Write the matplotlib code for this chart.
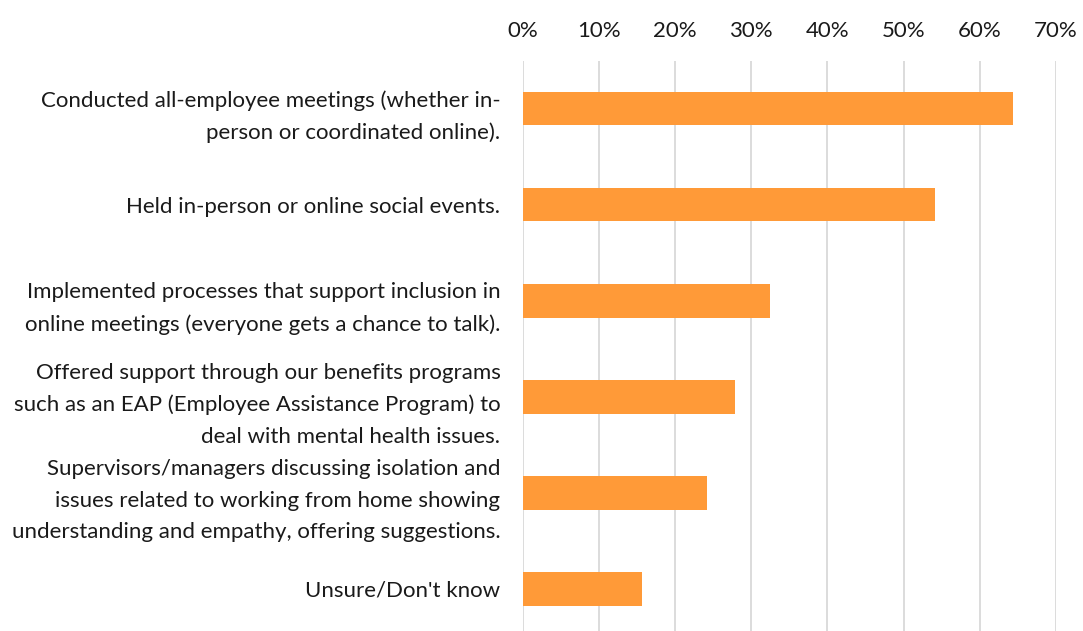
"""
Employee engagement actions during remote work, horizontal bar chart.
"""

import matplotlib

matplotlib.use("Agg")
import matplotlib.pyplot as plt
from matplotlib.ticker import FuncFormatter, MultipleLocator

CATEGORIES = [
    "Conducted all-employee meetings (whether in-\nperson or coordinated online).",
    "Held in-person or online social events.",
    "Implemented processes that support inclusion in\nonline meetings (everyone gets a chance to talk).",
    "Offered support through our benefits programs\nsuch as an EAP (Employee Assistance Program) to\ndeal with mental health issues.",
    "Supervisors/managers discussing isolation and\nissues related to working from home showing\nunderstanding and empathy, offering suggestions.",
    "Unsure/Don't know",
]
SHARES = [0.643, 0.541, 0.324, 0.279, 0.242, 0.157]

BAR_COLOR = "#FF9A38"
GRID_COLOR = "#D9D9D9"
TEXT_COLOR = "#1A1A1A"


def main() -> None:
    plt.rcParams["font.family"] = ["Lato", "DejaVu Sans"]

    fig = plt.figure(figsize=(10.83, 6.31), dpi=100)
    ax = fig.add_axes([0.4826, -0.0095, 0.4925, 0.9135])

    y = list(range(len(CATEGORIES)))
    ax.barh(y, SHARES, height=0.35, color=BAR_COLOR, zorder=3)

    ax.set_xlim(0, 0.70)
    ax.set_ylim(len(CATEGORIES) - 0.5, -0.5)
    ax.set_yticks(y)
    ax.set_yticklabels(CATEGORIES, fontsize=16, color=TEXT_COLOR,
                       linespacing=1.72)

    ax.xaxis.tick_top()
    ax.xaxis.set_major_locator(MultipleLocator(0.10))
    ax.xaxis.set_major_formatter(FuncFormatter(lambda v, _: f"{v * 100:.0f}%"))
    ax.tick_params(axis="x", length=0, pad=14, labelsize=16,
                   labelcolor=TEXT_COLOR)
    ax.tick_params(axis="y", length=0, pad=16)

    ax.grid(axis="x", color=GRID_COLOR, linewidth=1.3, zorder=0)
    for side in ax.spines.values():
        side.set_visible(False)

    fig.savefig("out.png", dpi=100)
    plt.close(fig)


if __name__ == "__main__":
    main()
